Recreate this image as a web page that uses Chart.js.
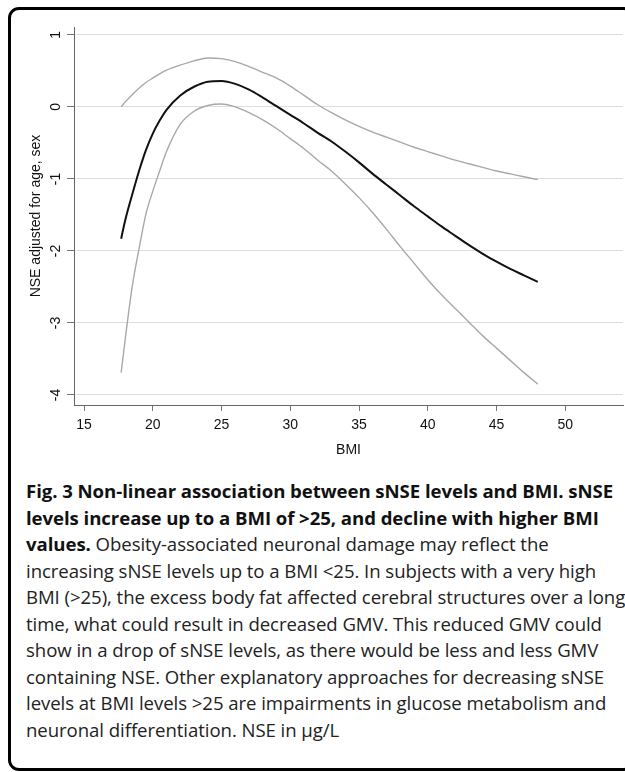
<!DOCTYPE html>
<html lang="en">
  <head>
    <meta charset="utf-8">
    <title>NSE vs BMI</title>
    <script src="https://cdn.jsdelivr.net/npm/chart.js@4.4.1/dist/chart.umd.min.js"></script>
    <style>
      html, body { margin: 0; background: #fff; overflow: hidden; }
      #frame {
        position: absolute; left: 8px; top: 7px; width: 627px; height: 764px;
        box-sizing: border-box; border: 3px solid #000; border-radius: 11px;
      }
      #chart { position: absolute; left: 0; top: 0; }
      #caption {
        position: absolute; left: 26px; top: 478px;
        font-family: "Open Sans", sans-serif; font-size: 18.6px; line-height: 26.5px;
        letter-spacing: -0.06px; color: #222; white-space: nowrap;
      }
      #caption b { color: #111; }
    </style>
  </head>
  <body>
    <div id="frame"></div>
    <canvas id="chart" width="625" height="470"></canvas>
    <div id="caption">
      <b>Fig. 3 Non-linear association between sNSE levels and BMI. sNSE</b><br>
      <b>levels increase up to a BMI of &gt;25, and decline with higher BMI</b><br>
      <b>values.</b> Obesity-associated neuronal damage may reflect the<br>
      increasing sNSE levels up to a BMI &lt;25. In subjects with a very high<br>
      BMI (&gt;25), the excess body fat affected cerebral structures over a long<br>
      time, what could result in decreased GMV. This reduced GMV could<br>
      show in a drop of sNSE levels, as there would be less and less GMV<br>
      containing NSE. Other explanatory approaches for decreasing sNSE<br>
      levels at BMI levels &gt;25 are impairments in glucose metabolism and<br>
      neuronal differentiation. NSE in µg/L
    </div>

    <script>
    // values
    const bmi   = [17.7, 18, 18.5, 19, 19.5, 20, 20.5, 21, 22, 23, 24, 25, 26, 27, 28, 29, 30, 31, 32, 33, 34, 35, 36, 37, 38, 39, 40, 41, 42, 43, 44, 45, 46, 47, 48];
    const fit   = [-1.83, -1.57, -1.22, -0.89, -0.60, -0.37, -0.19, -0.04, 0.16, 0.28, 0.35, 0.36, 0.32, 0.24, 0.13, 0.01, -0.11, -0.23, -0.36, -0.48, -0.62, -0.77, -0.93, -1.08, -1.23, -1.38, -1.52, -1.66, -1.79, -1.92, -2.04, -2.15, -2.25, -2.34, -2.43];
    const upper = [0.00, 0.07, 0.17, 0.26, 0.34, 0.40, 0.46, 0.51, 0.58, 0.64, 0.68, 0.67, 0.63, 0.56, 0.48, 0.40, 0.29, 0.16, 0.03, -0.08, -0.18, -0.27, -0.35, -0.42, -0.49, -0.56, -0.62, -0.68, -0.74, -0.79, -0.84, -0.89, -0.93, -0.97, -1.01];
    const lower = [-3.69, -3.22, -2.50, -1.97, -1.49, -1.17, -0.89, -0.62, -0.24, -0.06, 0.02, 0.04, 0.00, -0.08, -0.18, -0.30, -0.44, -0.58, -0.74, -0.89, -1.07, -1.26, -1.47, -1.70, -1.94, -2.17, -2.40, -2.61, -2.80, -2.99, -3.18, -3.35, -3.52, -3.69, -3.85];
    const xTicks = [15, 20, 25, 30, 35, 40, 45, 50];
    const yTicks = [-4, -3, -2, -1, 0, 1];

    const pts = ys => bmi.map((x, i) => ({x: x, y: ys[i]}));
    const axisFont = {family: 'Liberation Sans, Arial, sans-serif', size: 14};

    function line(data, color, width) {
      return {
        data: pts(data),
        borderColor: color,
        borderWidth: width,
        pointRadius: 0,
        cubicInterpolationMode: 'monotone',
        fill: false
      };
    }

    const ctx = document.getElementById('chart').getContext('2d');
    new Chart(ctx, {
      type: 'line',
      data: {
        datasets: [
          line(upper, '#a8a8a8', 1.4),
          line(lower, '#a8a8a8', 1.4),
          line(fit, '#111', 2)
        ]
      },
      options: {
        responsive: false,
        animation: false,
        layout: {padding: {left: 0, right: 2, top: 27, bottom: 0}},
        plugins: {legend: {display: false}, tooltip: {enabled: false}},
        scales: {
          x: {
            type: 'linear',
            min: 14.27,
            max: 54.2,
            afterBuildTicks: s => { s.ticks = xTicks.map(v => ({value: v})); },
            afterFit: s => { s.height = 65; },
            border: {color: '#666', width: 1},
            grid: {drawOnChartArea: false, drawTicks: true, tickLength: 6, tickColor: '#777'},
            ticks: {font: axisFont, color: '#111', padding: 6, maxRotation: 0},
            title: {display: true, text: 'BMI', font: axisFont, color: '#111', padding: {top: 0, bottom: 11}}
          },
          y: {
            min: -4.14,
            max: 1.11,
            afterBuildTicks: s => { s.ticks = yTicks.map(v => ({value: v})); },
            afterFit: s => { s.width = 74; },
            border: {color: '#666', width: 1},
            grid: {color: '#dedede', lineWidth: 1, tickLength: 7, tickColor: '#777'},
            ticks: {font: axisFont, color: '#111', padding: 5, minRotation: 90, maxRotation: 90, crossAlign: 'center'},
            title: {display: true, text: 'NSE adjusted for age, sex', font: axisFont, color: '#111', padding: {top: 28, bottom: 0}}
          }
        }
      }
    });
    </script>
  </body>
</html>
